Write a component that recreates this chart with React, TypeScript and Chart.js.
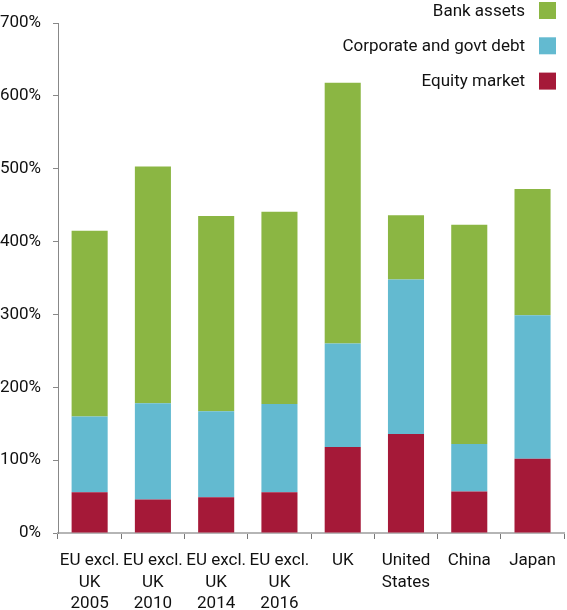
import { useEffect, useRef } from "react";
import { Chart, registerables } from "chart.js";

Chart.register(...registerables);

// categories (multi-line labels)
const categories = [
  ["EU excl.", "UK", "2005"],
  ["EU excl.", "UK", "2010"],
  ["EU excl.", "UK", "2014"],
  ["EU excl.", "UK", "2016"],
  ["UK"],
  ["United", "States"],
  ["China"],
  ["Japan"],
];

// series values, % of GDP (stacked segments)
const equityMarket = [56, 46, 49, 56, 118, 136, 57, 102];
const corporateGovtDebt = [104, 132, 118, 121, 142, 212, 65, 197];
const bankAssets = [255, 325, 268, 264, 358, 88, 301, 173];

const yTicks = [0, 100, 200, 300, 400, 500, 600, 700];

const FONT = "Roboto, 'Liberation Sans', sans-serif";

// legend drawn over the top-right corner, box to the right of the text
const sideLegend = {
  id: "sideLegend",
  afterDraw(chart: any) {
    const ctx = chart.ctx;
    const sets = [...chart.data.datasets].reverse();
    const boxSize = 17;
    const boxRight = chart.width - 11;
    ctx.save();
    ctx.font = "17px " + FONT;
    ctx.textAlign = "right";
    ctx.textBaseline = "middle";
    sets.forEach((ds: any, i: number) => {
      const cy = 10.5 + i * 35.3;
      ctx.fillStyle = ds.backgroundColor;
      ctx.fillRect(boxRight - boxSize, cy - boxSize / 2, boxSize, boxSize);
      ctx.fillStyle = "#111";
      ctx.fillText(ds.label, boxRight - boxSize - 14, cy + 1);
    });
    ctx.restore();
  },
};

const App = () => {
  const chartRef = useRef<HTMLCanvasElement | null>(null);

  useEffect(() => {
    if (!chartRef.current) return;
    const chart = new Chart(chartRef.current, {
      type: "bar",
      data: {
        labels: categories,
        datasets: [
          {
            label: "Equity market",
            data: equityMarket,
            backgroundColor: "#a51938",
          },
          {
            label: "Corporate and govt debt",
            data: corporateGovtDebt,
            backgroundColor: "#63bad0",
          },
          {
            label: "Bank assets",
            data: bankAssets,
            backgroundColor: "#8bb643",
          },
        ],
      },
      options: {
        animation: false,
        responsive: true,
        maintainAspectRatio: false,
        layout: { padding: { top: 23, right: 1, left: 0, bottom: 0 } },
        datasets: {
          bar: { categoryPercentage: 1, barPercentage: 0.57 },
        },
        plugins: {
          legend: { display: false },
          tooltip: { enabled: false },
        },
        scales: {
          x: {
            stacked: true,
            offset: true,
            afterFit: (scale: any) => {
              scale.height = 77;
            },
            grid: {
              display: true,
              drawOnChartArea: false,
              offset: true,
              tickLength: 6,
              color: "#777",
            },
            border: { color: "#b5b5b5", width: 2 },
            ticks: {
              autoSkip: false,
              maxRotation: 0,
              padding: 11,
              color: "#111",
              font: { family: FONT, size: 17, lineHeight: 1.27 },
            },
          },
          y: {
            stacked: true,
            min: 0,
            max: 700,
            afterFit: (scale: any) => {
              scale.width = 58;
            },
            afterBuildTicks: (scale: any) => {
              scale.ticks = yTicks.map((v) => ({ value: v }));
            },
            grid: {
              display: true,
              drawOnChartArea: false,
              tickLength: 5,
              color: "#888",
            },
            border: { color: "#888", width: 1 },
            ticks: {
              padding: 12,
              color: "#111",
              font: { family: FONT, size: 17 },
              callback: (v: any) => v + "%",
            },
          },
        },
      },
      plugins: [sideLegend],
    });
    return () => {
      chart.destroy();
    };
  }, []);

  return (
    <div
      style={{
        position: "absolute",
        left: 0,
        top: 0,
        width: 567,
        height: 610,
        background: "#fff",
      }}
    >
      <canvas ref={chartRef} />
    </div>
  );
};

export default App;
